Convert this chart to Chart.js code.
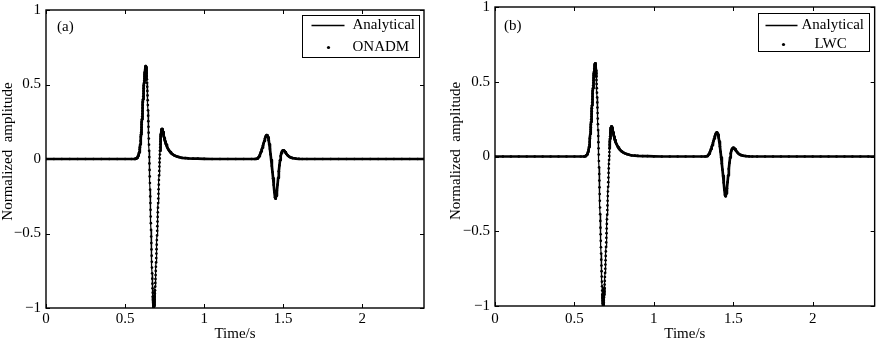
<!DOCTYPE html>
<html><head><meta charset="utf-8">
<script src="https://cdn.jsdelivr.net/npm/chart.js@4.4.1/dist/chart.umd.min.js"></script>
<style>
html,body{margin:0;padding:0;background:#fff;}
#wrap{position:relative;width:876px;height:342px;overflow:hidden;background:#fff;}
.pn{position:absolute;top:0;height:342px;}
#pa{left:0;width:440px;} #pb{left:440px;width:436px;}
canvas{display:block;}
</style></head><body>
<div id="wrap"><div class="pn" id="pa"><canvas id="ca" width="440" height="342"></canvas></div><div class="pn" id="pb"><canvas id="cb" width="436" height="342"></canvas></div></div>
<script>
// ---- data ----
const panelLabels = ['(a)', '(b)'];
const numericalNames = ['ONADM', 'LWC'];
const analyticalName = 'Analytical';
const xTitle = 'Time/s';
const yTitle = 'Normalized  amplitude';
const xTicks = [0, 0.5, 1, 1.5, 2];
const yTicks = [-1, -0.5, 0, 0.5, 1];

const time = [
  0, 0.05, 0.10, 0.15, 0.20, 0.25, 0.30, 0.35, 0.40, 0.45, 0.50, 0.54,
  0.560, 0.564, 0.568, 0.572, 0.576, 0.580, 0.583, 0.586, 0.589, 0.592, 0.594, 0.596, 0.598,
  0.600, 0.601, 0.602, 0.603, 0.604, 0.605, 0.606, 0.607, 0.608, 0.609,
  0.610, 0.611, 0.612, 0.613, 0.614, 0.615, 0.616, 0.617, 0.618, 0.619,
  0.620, 0.621, 0.622, 0.623, 0.624, 0.625, 0.626, 0.627, 0.628, 0.629,
  0.630, 0.631, 0.632, 0.633, 0.634, 0.635, 0.636, 0.637, 0.638, 0.639,
  0.640, 0.641, 0.642, 0.643, 0.644, 0.645, 0.646, 0.647, 0.648, 0.649,
  0.650, 0.651, 0.652, 0.653, 0.654, 0.655, 0.656, 0.657, 0.658, 0.659,
  0.660, 0.661, 0.662, 0.663, 0.664, 0.665, 0.666, 0.667, 0.668, 0.669,
  0.670, 0.671, 0.672, 0.673, 0.674, 0.675, 0.676, 0.677, 0.678, 0.679,
  0.680, 0.681, 0.682, 0.683, 0.684, 0.685, 0.686, 0.687, 0.688, 0.689,
  0.690, 0.691, 0.692, 0.693, 0.694, 0.695, 0.696, 0.697, 0.698, 0.699,
  0.700, 0.701, 0.702, 0.703, 0.704, 0.705, 0.706, 0.707, 0.708, 0.709,
  0.710, 0.711, 0.712, 0.713, 0.714, 0.715, 0.716, 0.717, 0.718, 0.719,
  0.720, 0.721, 0.722, 0.723, 0.724, 0.725, 0.726, 0.727, 0.728, 0.729,
  0.730, 0.731, 0.732, 0.733, 0.734, 0.735, 0.736, 0.737, 0.738, 0.739,
  0.740,
  0.742, 0.744, 0.746, 0.748, 0.750, 0.752, 0.754, 0.756, 0.758, 0.760,
  0.765, 0.770, 0.775, 0.780, 0.785, 0.790, 0.795, 0.800, 0.810, 0.820,
  0.830, 0.840, 0.850, 0.860, 0.880, 0.900, 0.930, 0.960, 1.000, 1.050,
  1.100, 1.150, 1.200, 1.250, 1.300, 1.320, 1.328, 1.336, 1.340, 1.344,
  1.348, 1.352, 1.356, 1.360, 1.364, 1.368, 1.372, 1.376, 1.380, 1.384,
  1.388, 1.392, 1.396, 1.400, 1.404, 1.408, 1.412, 1.416, 1.420, 1.424,
  1.428, 1.432, 1.436, 1.440, 1.444, 1.448, 1.452, 1.456, 1.460, 1.464,
  1.468, 1.472, 1.476, 1.480, 1.484, 1.488, 1.492, 1.496, 1.500, 1.504,
  1.508, 1.512, 1.516, 1.520, 1.526, 1.532, 1.540, 1.550, 1.560, 1.580,
  1.600, 1.620, 1.650, 1.700, 1.750, 1.800, 1.850, 1.900, 1.950, 2.000,
  2.050, 2.100, 2.150, 2.200, 2.250, 2.300, 2.350, 2.390
];

const analytical = [
  0, 0, 0, 0, 0, 0, 0, 0, 0, 0, 0, 0,
  0, 0.001, 0.002, 0.004, 0.008, 0.014, 0.021, 0.031, 0.044, 0.063, 0.078, 0.097, 0.121,
  0.150, 0.165, 0.180, 0.196, 0.213, 0.231, 0.249, 0.267, 0.285, 0.303,
  0.322, 0.342, 0.362, 0.382, 0.401, 0.420, 0.439, 0.457, 0.475, 0.493,
  0.510, 0.525, 0.540, 0.554, 0.567, 0.579, 0.590, 0.600, 0.608, 0.615,
  0.620, 0.623, 0.621, 0.615, 0.605, 0.592, 0.576, 0.557, 0.535, 0.511,
  0.485, 0.457, 0.427, 0.395, 0.362, 0.327, 0.291, 0.254, 0.216, 0.177,
  0.137, 0.096, 0.055, 0.013, -0.030, -0.073, -0.117, -0.161, -0.206, -0.251,
  -0.296, -0.341, -0.386, -0.431, -0.476, -0.520, -0.564, -0.607, -0.649, -0.690,
  -0.729, -0.767, -0.803, -0.837, -0.868, -0.897, -0.923, -0.946, -0.965, -0.981,
  -0.993, -1.000, -0.996, -0.987, -0.975, -0.960, -0.943, -0.924, -0.903, -0.881,
  -0.857, -0.832, -0.806, -0.779, -0.751, -0.723, -0.694, -0.665, -0.635, -0.605,
  -0.575, -0.544, -0.513, -0.482, -0.451, -0.420, -0.389, -0.358, -0.327, -0.296,
  -0.265, -0.234, -0.203, -0.172, -0.141, -0.110, -0.080, -0.051, -0.023, 0.004,
  0.030, 0.055, 0.078, 0.099, 0.118, 0.135, 0.150, 0.163, 0.174, 0.183,
  0.190, 0.195, 0.198, 0.200, 0.200, 0.199, 0.197, 0.194, 0.190, 0.186,
  0.181,
  0.171, 0.161, 0.151, 0.141, 0.132, 0.124, 0.116, 0.109, 0.102, 0.096,
  0.083, 0.072, 0.062, 0.054, 0.047, 0.041, 0.036, 0.032, 0.025, 0.020,
  0.016, 0.013, 0.010, 0.008, 0.006, 0.004, 0.003, 0.002, 0.001, 0,
  0, 0, 0, 0, 0, 0, 0.001, 0.003, 0.006, 0.011,
  0.018, 0.027, 0.038, 0.050, 0.063, 0.076, 0.090, 0.105, 0.120, 0.135,
  0.148, 0.157, 0.161, 0.158, 0.146, 0.126, 0.099, 0.067, 0.031, -0.007,
  -0.047, -0.088, -0.130, -0.175, -0.222, -0.258, -0.266, -0.247, -0.213, -0.172,
  -0.127, -0.083, -0.043, -0.008, 0.020, 0.039, 0.050, 0.056, 0.058, 0.057,
  0.053, 0.047, 0.041, 0.035, 0.027, 0.020, 0.014, 0.009, 0.006, 0.003,
  0.001, 0, 0, 0, 0, 0, 0, 0, 0, 0,
  0, 0, 0, 0, 0, 0, 0, 0
];

// numerical solutions coincide with the analytical curve at this resolution
const onadm = analytical.slice();
const lwc = analytical.slice();

// ---- rendering ----
const FONT = '"Liberation Serif", "Times New Roman", serif';

const frame = {
  id: 'frame',
  afterDatasetsDraw(chart, args, o) {
    const {ctx, chartArea: a, scales: {x, y}} = chart;
    ctx.save();
    ctx.strokeStyle = '#000';
    ctx.lineWidth = 1;
    ctx.beginPath();
    x.ticks.forEach(t => {
      const p = Math.round(x.getPixelForValue(t.value)) + 0.5;
      ctx.moveTo(p, a.bottom); ctx.lineTo(p, a.bottom - 4);
      ctx.moveTo(p, a.top); ctx.lineTo(p, a.top + 4);
    });
    y.ticks.forEach(t => {
      const p = Math.round(y.getPixelForValue(t.value)) + 0.5;
      ctx.moveTo(a.left, p); ctx.lineTo(a.left + 4, p);
      ctx.moveTo(a.right, p); ctx.lineTo(a.right - 4, p);
    });
    ctx.stroke();
    ctx.lineWidth = 1.4;
    ctx.strokeRect(a.left, a.top, a.right - a.left, a.bottom - a.top);

    ctx.fillStyle = '#000';
    ctx.font = '15px ' + FONT;
    ctx.textBaseline = 'middle';
    ctx.textAlign = 'left';
    ctx.fillText(o.label, a.left + o.labelDx, a.top + o.labelDy);

    const L = o.legend;
    const bx = Math.round(a.right - L.right - L.w) + 0.5, by = Math.round(a.top + L.top) + 0.5;
    ctx.fillStyle = '#fff';
    ctx.fillRect(bx, by, L.w, L.h);
    ctx.lineWidth = 1;
    ctx.strokeStyle = '#000';
    ctx.strokeRect(bx, by, L.w, L.h);
    const ds = chart.data.datasets;
    ctx.lineWidth = 1.5;
    ctx.beginPath();
    ctx.moveTo(bx + L.lineX0, by + L.row1); ctx.lineTo(bx + L.lineX1, by + L.row1);
    ctx.stroke();
    ctx.fillStyle = '#000';
    ctx.beginPath();
    ctx.arc(bx + L.dotX, by + L.row2, 1.6, 0, Math.PI * 2);
    ctx.fill();
    ctx.fillText(ds[0].label, bx + L.text1, by + L.row1);
    ctx.fillText(ds[1].label, bx + L.text2, by + L.row2);
    ctx.restore();
  }
};

function steep(c) {
  const dx = Math.abs(c.p1.x - c.p0.x), dy = Math.abs(c.p1.y - c.p0.y);
  return dy > 22 * Math.max(dx, 0.01) && dy > 3;
}

function makeChart(id, numName, numValues, geo) {
  const pts = vals => time.map((t, i) => ({x: t, y: vals[i]}));
  return new Chart(document.getElementById(id), {
    type: 'scatter',
    data: {
      datasets: [
        {
          label: analyticalName,
          data: pts(analytical),
          showLine: true,
          borderColor: '#000',
          borderWidth: 1.2,
          borderJoinStyle: 'round',
          pointRadius: 0,
          tension: 0,
          order: 2
        },
        {
          label: numName,
          data: pts(numValues),
          showLine: true,
          borderColor: '#000',
          borderWidth: 2.7,
          borderJoinStyle: 'round',
          borderCapStyle: 'round',
          segment: { borderColor: c => steep(c) ? 'rgba(0,0,0,0)' : '#000' },
          pointRadius: 1.35,
          pointBackgroundColor: '#000',
          pointBorderWidth: 0,
          pointHoverRadius: 0,
          tension: 0,
          order: 1
        }
      ]
    },
    options: {
      responsive: false,
      animation: false,
      events: [],
      layout: { padding: geo.padding },
      plugins: {
        legend: { display: false },
        tooltip: { enabled: false },
        frame: geo.frame
      },
      scales: {
        x: {
          type: 'linear',
          min: 0, max: 2.39,
          grid: { display: false, drawTicks: false },
          border: { display: false },
          afterBuildTicks: s => { s.ticks = xTicks.map(v => ({value: v})); },
          afterFit: s => { s.height = geo.xh; s.paddingLeft = 0; s.paddingRight = 0; },
          ticks: {
            color: '#000', padding: geo.xPad, maxRotation: 0, autoSkip: false,
            font: { family: FONT, size: 15, lineHeight: 1 },
            callback: v => String(v)
          },
          title: {
            display: true, text: xTitle, color: '#000',
            font: { family: FONT, size: 15, lineHeight: 1 },
            padding: { top: 0, bottom: geo.xTitlePad }
          }
        },
        y: {
          min: -1, max: 1,
          grid: { display: false, drawTicks: false },
          border: { display: false },
          afterBuildTicks: s => { s.ticks = yTicks.map(v => ({value: v})); },
          afterFit: s => { s.width = geo.yw; s.paddingTop = 0; s.paddingBottom = 0; },
          ticks: {
            color: '#000', padding: geo.yPad, autoSkip: false,
            font: { family: FONT, size: 15, lineHeight: 1 },
            callback: v => v < 0 ? '\u2212' + String(Math.abs(v)) : String(v)
          },
          title: {
            display: true, text: geo.yLead + yTitle, color: '#000',
            font: { family: FONT, size: 15, lineHeight: 1 },
            padding: { top: geo.yTitlePad, bottom: 0 }
          }
        }
      }
    },
    plugins: [frame]
  });
}

makeChart('ca', numericalNames[0], onadm, {
  padding: { left: 0, right: 16, top: 10, bottom: 0 },
  xh: 34, yw: 46, xPad: 4, yPad: 5, xTitlePad: 0, yTitlePad: 0.5, yLead: '    ',
  frame: {
    label: panelLabels[0], labelDx: 11, labelDy: 17,
    legend: { right: 5, top: 5, w: 117, h: 42, lineX0: 9, lineX1: 42, row1: 10, row2: 32, dotX: 26, text1: 50, text2: 50 }
  }
});

makeChart('cb', numericalNames[1], lwc, {
  padding: { left: 0, right: 1, top: 7, bottom: 0 },
  xh: 36, yw: 55, xPad: 6, yPad: 5, xTitlePad: 0, yTitlePad: 8.5, yLead: '   ',
  frame: {
    label: panelLabels[1], labelDx: 9, labelDy: 19,
    legend: { right: 6, top: 6, w: 111, h: 38, lineX0: 7, lineX1: 39, row1: 12, row2: 31, dotX: 25, text1: 43, text2: 56 }
  }
});
</script>
</body></html>
